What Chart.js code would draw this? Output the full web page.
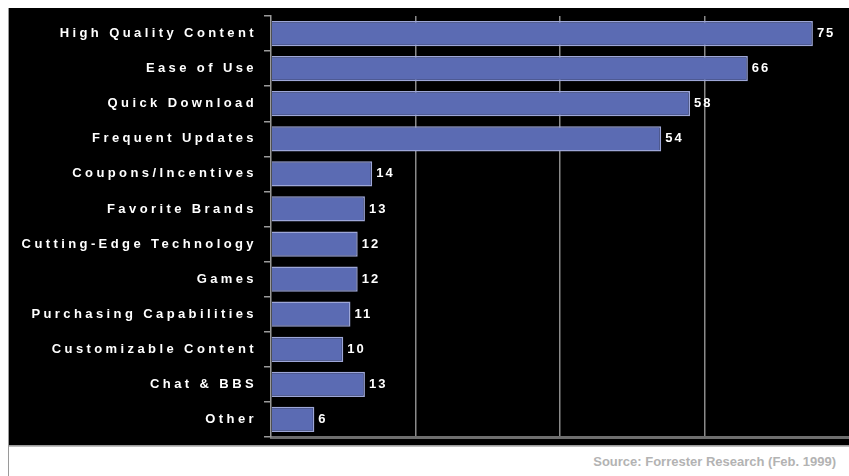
<!DOCTYPE html>
<html>
<head>
<meta charset="utf-8">
<script src="https://cdn.jsdelivr.net/npm/chart.js@4/dist/chart.umd.min.js"></script>
<style>
  html, body { margin: 0; padding: 0; background: #ffffff; }
  body { width: 849px; height: 476px; position: relative; overflow: hidden; }
  #frame { position: absolute; left: 8px; top: 8px; width: 841px; height: 470px; border-left: 1px solid #9a9a9a; box-sizing: border-box; }
  #panel { position: absolute; left: 9px; top: 8px; width: 840px; height: 437px; background: #000000; }
  #sep { position: absolute; left: 9px; top: 445px; width: 840px; height: 2px; background: linear-gradient(#8a8a8a, #d0d0d0); }
  #source { position: absolute; right: 13px; top: 454px; font: bold 13px "Liberation Sans", Arial, sans-serif; color: #b3b3b3; white-space: nowrap; }
  canvas { display: block; }
</style>
</head>
<body>
<div id="frame"></div>
<div id="panel"><canvas id="c" width="840" height="437"></canvas></div>
<div id="sep"></div>
<div id="source">Source: Forrester Research (Feb. 1999)</div>
<script>
const categories = [
  "High Quality Content", "Ease of Use", "Quick Download", "Frequent Updates",
  "Coupons/Incentives", "Favorite Brands", "Cutting-Edge Technology", "Games",
  "Purchasing Capabilities", "Customizable Content", "Chat & BBS", "Other"
];
const values = [75, 66, 58, 54, 14, 13, 12, 12, 11, 10, 13, 6];
const xTicks = [0, 20, 40, 60, 80];

const spacingPlugin = {
  id: 'spacing',
  beforeLayout(chart) { chart.ctx.letterSpacing = '3.4px'; },
  beforeDraw(chart) { chart.ctx.letterSpacing = '3.4px'; }
};

const valueLabels = {
  id: 'valueLabels',
  afterDatasetsDraw(chart) {
    const ctx = chart.ctx;
    const meta = chart.getDatasetMeta(0);
    ctx.save();
    ctx.letterSpacing = '2px';
    ctx.fillStyle = '#ffffff';
    ctx.font = 'bold 13px "Liberation Sans", Arial, sans-serif';
    ctx.textAlign = 'left';
    ctx.textBaseline = 'middle';
    meta.data.forEach((bar, i) => {
      ctx.fillText(String(values[i]), bar.x + 4, bar.y);
    });
    ctx.restore();
  }
};

new Chart(document.getElementById('c'), {
  type: 'bar',
  data: {
    labels: categories,
    datasets: [{
      data: values,
      backgroundColor: '#5b6bb3',
      borderColor: '#9ea7d8',
      borderWidth: 1.5,
      barPercentage: 0.72,
      categoryPercentage: 1.0
    }]
  },
  options: {
    indexAxis: 'y',
    responsive: false,
    animation: false,
    events: [],
    layout: { padding: { top: 8, left: 0, right: 0, bottom: 0 } },
    plugins: { legend: { display: false }, tooltip: { enabled: false } },
    scales: {
      x: {
        min: 0, max: 80,
        afterBuildTicks(scale) { scale.ticks = xTicks.map(v => ({ value: v })); },
        ticks: { display: false },
        grid: {
          drawTicks: false,
          color: ctx => (ctx.tick && (ctx.tick.value === 0 || ctx.tick.value === 80)) ? 'rgba(0,0,0,0)' : '#8a8a8a',
          lineWidth: 1.5
        },
        border: { display: true, color: '#6e6e6e', width: 3 },
        afterFit(scale) { scale.height = 8; scale.paddingLeft = 0; scale.paddingRight = 0; }
      },
      y: {
        ticks: {
          color: '#ffffff',
          font: { family: '"Liberation Sans", Arial, sans-serif', size: 13, weight: 'bold' },
          padding: 7,
          autoSkip: false
        },
        grid: {
          drawOnChartArea: false,
          drawTicks: true,
          tickLength: 7,
          color: '#9a9a9a',
          lineWidth: 1.5,
          offset: true
        },
        border: { display: true, color: '#9a9a9a', width: 1.5 },
        afterFit(scale) { scale.width = 262; scale.paddingTop = 0; scale.paddingBottom = 0; }
      }
    }
  },
  plugins: [spacingPlugin, valueLabels]
});
</script>
</body>
</html>
